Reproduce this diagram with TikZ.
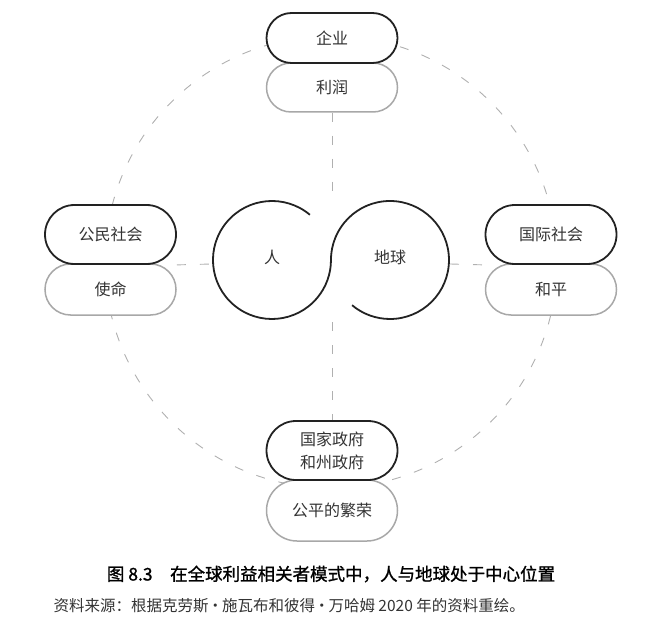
\documentclass[tikz,border=0pt]{standalone}
\usepackage{fontspec}
\setmainfont{Noto Sans CJK SC}
\newfontfamily\cjkbold{Noto Sans CJK SC}[FakeBold=1.2]
\definecolor{pilldark}{HTML}{222222}
\definecolor{pillgray}{HTML}{A8A8A8}
\definecolor{dashgray}{HTML}{B0B0B0}
\definecolor{txt}{HTML}{333333}
\begin{document}
\begin{tikzpicture}[x=1pt,y=-1pt,
  pillbase/.style={fill=white, minimum width=131pt, inner sep=0pt, align=center,
    text=txt, font=\fontsize{16}{23}\selectfont},
  darkpill/.style={pillbase, draw=pilldark, line width=1.8pt},
  graypill/.style={pillbase, draw=pillgray, line width=1.5pt},
  guide/.style={draw=dashgray, line width=0.9pt, dash pattern=on 9pt off 14pt},
  label/.style={text=txt, font=\fontsize{16}{20}\selectfont}]
\useasboundingbox (0,0) rectangle (647,636);
% big dashed circle
\coordinate (ctr) at (331,262);
\draw[guide] (ctr) circle[radius=226pt];
% gray pills
\node[graypill, minimum height=49pt, rounded corners=24.5pt] (lirun) at (332,87.5) {利润};
\node[graypill, minimum height=51pt, rounded corners=25.5pt] (shiming) at (110.5,289.5) {使命};
\node[graypill, minimum height=51pt, rounded corners=25.5pt] (heping) at (551,289.5) {和平};
\node[graypill, minimum height=61pt, rounded corners=30.5pt] (gongping) at (332,510.5) {公平的繁荣};
% dark pills
\node[darkpill, minimum height=50pt, rounded corners=25pt] (qiye) at (332,38) {企业};
\node[darkpill, minimum height=59pt, rounded corners=29.5pt] (gongmin) at (110.5,234.5) {公民社会};
\node[darkpill, minimum height=59pt, rounded corners=29.5pt] (guoji) at (551,234.5) {国际社会};
\node[darkpill, minimum height=59pt, rounded corners=29.5pt] (zhengfu) at (332,450.5) {国家政府\\和州政府};
% center shape
\coordinate (sstart) at (309.9,214.8);
\draw[pilldark, line width=1.8pt] (sstart)
  arc[start angle=50, end angle=360, radius=59pt]
  arc[start angle=180, end angle=-130, radius=59pt];
\node[label] (ren) at (272,257) {人};
\node[label] (diqiu) at (390,257) {地球};
% dashed guides
\coordinate (vtop) at (332,196);
\coordinate (vbot) at (332,322);
\coordinate (hleft) at (212,264);
\coordinate (hright) at (450,264);
\draw[guide] (lirun.south) -- (vtop);
\draw[guide] (vbot) -- (zhengfu.north);
\draw[guide] (gongmin.south east) -- (hleft);
\draw[guide] (hright) -- (guoji.south west);
% caption
\node[font=\fontsize{17.5}{20}\selectfont, text=black] (title) at (331,574)
  {\cjkbold 图 8.3\quad 在全球利益相关者模式中，人与地球处于中心位置};
\node[anchor=west, font=\fontsize{15.5}{18}\selectfont, text=txt] (source) at (50,606)
  {资料来源：根据克劳斯\kern-1pt·\kern-1pt施瓦布和彼得\kern-1pt·\kern-1pt万哈姆 2020 年的资料重绘。};
\end{tikzpicture}
\end{document}
